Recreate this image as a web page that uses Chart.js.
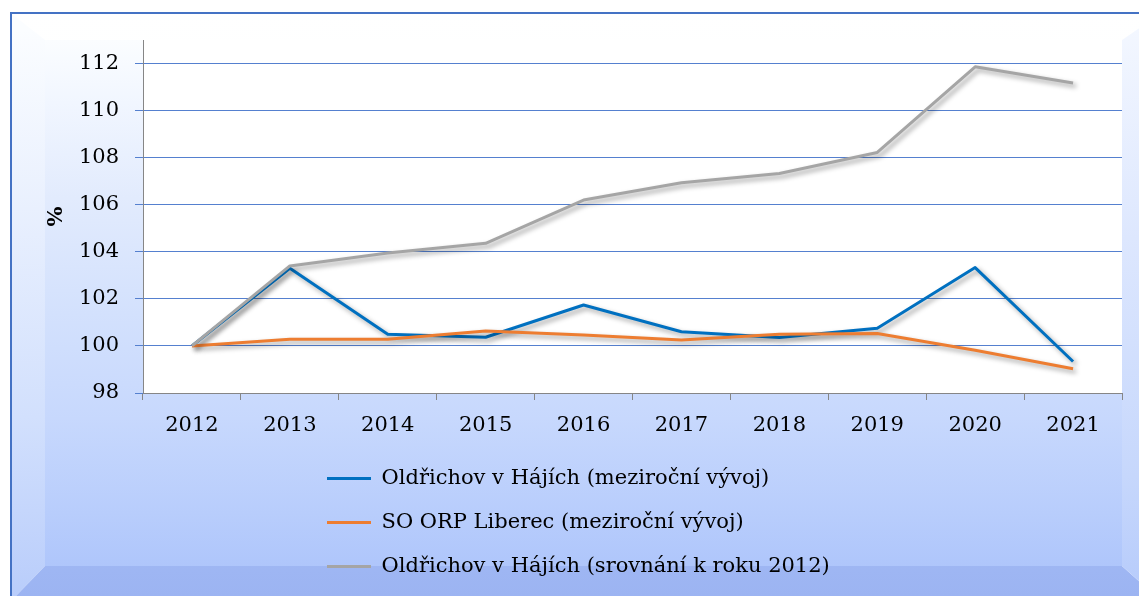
<!DOCTYPE html>
<html lang="cs">
<head>
  <meta charset="UTF-8">
  <title>Oldřichov v Hájích</title>
  <style>
    html, body {
      margin: 0;
      padding: 0;
      width: 1139px;
      height: 596px;
      overflow: hidden;
      background: #fff;
    }
    .layer {
      position: absolute;
      left: 0;
      top: 0;
      width: 1139px;
      height: 596px;
    }
    /* outer blue frame, right and bottom edges fall outside the picture */
    #frame {
      position: absolute;
      left: 10px;
      top: 12px;
      width: 1200px;
      height: 700px;
      border-top: 2px solid #4472c4;
      border-left: 2px solid #4472c4;
    }
    /* bevel sides */
    #bevel-top {
      clip-path: polygon(12px 14px, 1160px 14px, 1122px 40px, 45px 40px);
      background: linear-gradient(to bottom, #ffffff, #f9fbff);
    }
    #bevel-left {
      clip-path: polygon(12px 14px, 45px 40px, 45px 566px, 12px 600px);
      background: linear-gradient(to bottom, #fbfdff 5%, #e9f0fe 35%, #d2e0fd 70%, #b9cdfb 100%);
    }
    #bevel-bottom {
      clip-path: polygon(12px 600px, 45px 566px, 1122px 566px, 1160px 600px);
      background: linear-gradient(to bottom, #aac1f7 0%, #a6bdf6 80%, #9cb4f2 100%);
    }
    #bevel-right {
      clip-path: polygon(1122px 40px, 1160px 14px, 1160px 600px, 1122px 566px);
      background: linear-gradient(to bottom, #f3f7ff 5%, #dde7fe 40%, #c6d7fc 80%, #b6cbfb 100%);
    }
    /* front face */
    #face {
      position: absolute;
      left: 45px;
      top: 40px;
      width: 1077px;
      height: 526px;
      background: linear-gradient(to bottom, #fbfdff 0%, #f1f6ff 12%, #e2ebfd 30%, #d3e1fd 52%, #c7d8fd 72%, #b8cdfc 90%, #afc6fb 100%);
    }
    #wrap {
      position: absolute;
      left: 0;
      top: 0;
      width: 1139px;
      height: 596px;
    }
  </style>
</head>
<body>
  <div id="frame"></div>
  <div id="bevel-top" class="layer"></div>
  <div id="bevel-left" class="layer"></div>
  <div id="bevel-bottom" class="layer"></div>
  <div id="bevel-right" class="layer"></div>
  <div id="face"></div>
  <div id="wrap"><canvas id="chart"></canvas></div>

  <script src="https://cdn.jsdelivr.net/npm/chart.js"></script>
  <script>
    const years = ['2012', '2013', '2014', '2015', '2016', '2017', '2018', '2019', '2020', '2021'];
    const oldrichovYoY = [100, 103.3, 100.5, 100.37, 101.74, 100.6, 100.36, 100.75, 103.33, 99.34];
    const liberecYoY = [100, 100.28, 100.28, 100.63, 100.46, 100.25, 100.5, 100.53, 99.82, 99.03];
    const oldrichovVs2012 = [100, 103.4, 103.95, 104.36, 106.2, 106.93, 107.33, 108.22, 111.86, 111.17];
    const seriesNames = [
      'Oldřichov v Hájích (meziroční vývoj)',
      'SO ORP Liberec (meziroční vývoj)',
      'Oldřichov v Hájích (srovnání k roku 2012)'
    ];

    const serif = 'DejaVu Serif';

    // white plot area
    const plotBackground = {
      id: 'plotBackground',
      beforeDraw(chart) {
        const { ctx, chartArea: a } = chart;
        ctx.save();
        ctx.fillStyle = '#ffffff';
        ctx.fillRect(a.left, a.top, a.width, a.height);
        ctx.restore();
      }
    };

    // soft drop shadow under the lines
    const lineShadow = {
      id: 'lineShadow',
      beforeDatasetDraw(chart) {
        const ctx = chart.ctx;
        ctx.save();
        ctx.shadowColor = 'rgba(0, 0, 0, 0.38)';
        ctx.shadowBlur = 5;
        ctx.shadowOffsetX = 3;
        ctx.shadowOffsetY = 3;
      },
      afterDatasetDraw(chart) {
        chart.ctx.restore();
      }
    };

    // legend sits under the axis, one item per row, left aligned
    const legendPlace = {
      id: 'legendPlace',
      beforeLayout(chart) {
        const lg = chart.legend;
        if (lg && !lg._fixed) {
          const fit = lg.fit.bind(lg);
          lg.fit = function () {
            fit();
            this.height = 150;
          };
          lg._fixed = true;
        }
      },
      afterLayout(chart) {
        const lg = chart.legend;
        lg.left = 304;
        lg.right = 904;
        lg.top = 445;
        lg.bottom = 594;
      }
    };

    new Chart(document.getElementById('chart'), {
      type: 'line',
      data: {
        labels: years,
        datasets: [
          {
            label: seriesNames[0],
            data: oldrichovYoY,
            borderColor: '#0070c0',
            backgroundColor: '#0070c0',
            order: 2
          },
          {
            label: seriesNames[1],
            data: liberecYoY,
            borderColor: '#ed7d31',
            backgroundColor: '#ed7d31',
            order: 1
          },
          {
            label: seriesNames[2],
            data: oldrichovVs2012,
            borderColor: '#a5a5a5',
            backgroundColor: '#a5a5a5',
            order: 0
          }
        ]
      },
      options: {
        responsive: true,
        maintainAspectRatio: false,
        animation: false,
        layout: { padding: { left: 40, top: 40, right: 17, bottom: 0 } },
        elements: {
          line: { borderWidth: 3, tension: 0, borderJoinStyle: 'round' },
          point: { radius: 0, hoverRadius: 0 }
        },
        scales: {
          x: {
            offset: true,
            grid: {
              offset: true,
              drawOnChartArea: false,
              tickLength: 7,
              color: '#868686'
            },
            border: { color: '#868686' },
            ticks: {
              color: '#000',
              padding: 13,
              font: { family: serif, size: 21 }
            },
            afterFit(scale) { scale.height = 53; }
          },
          y: {
            min: 98,
            max: 113,
            grid: { color: '#5580cf', tickLength: 8 },
            border: { color: '#868686' },
            ticks: {
              stepSize: 2,
              includeBounds: false,
              padding: 16,
              color: '#000',
              font: { family: serif, size: 21 }
            },
            title: {
              display: true,
              text: '%',
              color: '#000',
              font: { family: serif, size: 21, weight: 'bold' },
              padding: { top: 4, bottom: 0 }
            },
            afterFit(scale) { scale.width = 103; }
          }
        },
        plugins: {
          tooltip: { enabled: false },
          legend: {
            position: 'bottom',
            align: 'start',
            labels: {
              boxWidth: 44,
              boxHeight: 3,
              padding: 23,
              color: '#000',
              font: { family: serif, size: 21 },
              sort: (a, b) => a.datasetIndex - b.datasetIndex,
              generateLabels: chart =>
                Chart.defaults.plugins.legend.labels.generateLabels(chart)
                  .map(item => ({ ...item, lineWidth: 0 }))
            }
          }
        }
      },
      plugins: [plotBackground, lineShadow, legendPlace]
    });
  </script>
</body>
</html>
